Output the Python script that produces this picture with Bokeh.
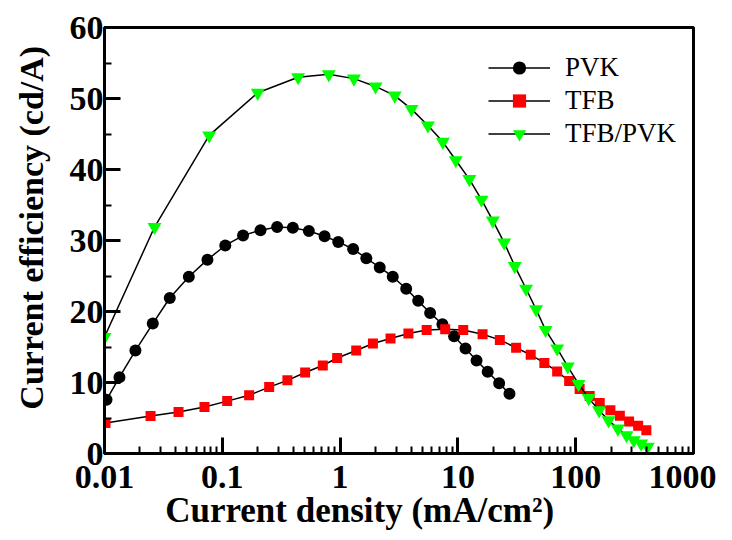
from bokeh.plotting import figure
from bokeh.models import LogTicker, SingleIntervalTicker, Range1d, CustomJSTickFormatter
from bokeh.embed import file_html
from bokeh.resources import INLINE

# Data
pvk_x = [0.0104, 0.0134, 0.0183, 0.0257, 0.0358, 0.052, 0.0748, 0.106, 0.150, 0.211,
         0.292, 0.397, 0.543, 0.738, 0.964, 1.29, 1.67, 2.17, 2.80, 3.64,
         4.60, 5.81, 7.39, 9.29, 11.6, 14.4, 17.9, 22.4, 27.4]
pvk_y = [7.57, 10.75, 14.5, 18.3, 21.9, 24.9, 27.3, 29.3, 30.7, 31.45,
         31.9, 31.8, 31.35, 30.6, 29.8, 28.8, 27.5, 26.2, 24.9, 23.2,
         21.5, 19.8, 18.2, 16.5, 14.8, 13.1, 11.5, 9.9, 8.4]

tfb_x = [0.0102, 0.0246, 0.0425, 0.0706, 0.110, 0.169, 0.250, 0.357, 0.505, 0.713,
         0.944, 1.37, 1.90, 2.68, 3.80, 5.43, 7.80, 11.1, 16.2, 22.7,
         31.2, 41.5, 54.2, 69.6, 88, 108, 131.5, 160, 197, 237,
         284, 339, 398]
tfb_y = [4.3, 5.28, 5.85, 6.55, 7.38, 8.2, 9.35, 10.3, 11.4, 12.4,
         13.45, 14.5, 15.5, 16.2, 16.9, 17.4, 17.5, 17.4, 16.8, 16.0,
         14.9, 13.9, 12.75, 11.55, 10.2, 9.1, 8.1, 7.1, 6.1, 5.3,
         4.5, 3.9, 3.27]

both_x = [0.01, 0.0266, 0.0774, 0.200, 0.440, 0.802, 1.31, 2.0, 2.91, 4.04,
          5.56, 7.45, 9.6, 12.5, 15.85, 19.8, 24.7, 30.4, 37.9, 46.1,
          55.5, 69.6, 85.7, 105.7, 129, 158, 190, 228, 270, 311,
          359, 409]
both_y = [16.4, 31.9, 44.8, 50.8, 53.0, 53.4, 52.8, 51.7, 50.4, 48.5,
          46.2, 43.9, 41.3, 38.65, 35.75, 32.8, 29.7, 26.4, 23.2, 20.3,
          17.4, 14.8, 12.25, 9.8, 7.8, 6.07, 4.67, 3.5, 2.57, 1.87,
          1.4, 0.94]

x_label = "Current density (mA/cm\u00b2)"
y_label = "Current efficiency (cd/A)"

FONT = "Liberation Serif"
NB = "\u00a0"

p = figure(width=716, height=532, x_axis_type="log",
           x_range=Range1d(0.01, 1000), y_range=Range1d(0, 60),
           output_backend="svg", toolbar_location=None)
p.min_border_left = 104
p.min_border_right = 23
p.min_border_top = 27
p.min_border_bottom = 77
p.background_fill_color = "white"
p.border_fill_color = "white"
p.outline_line_color = "black"
p.outline_line_width = 3
p.xgrid.visible = False
p.ygrid.visible = False

# series
p.line(pvk_x, pvk_y, line_color="black", line_width=1.5, legend_label="PVK")
p.scatter(pvk_x, pvk_y, marker="circle", size=12, fill_color="black",
          line_color=None, legend_label="PVK")
p.line(tfb_x, tfb_y, line_color="black", line_width=1.5, legend_label="TFB")
p.scatter(tfb_x, tfb_y, marker="square", size=10, fill_color="#ff0000",
          line_color=None, legend_label="TFB")
p.line(both_x, both_y, line_color="black", line_width=1.5, legend_label="TFB/PVK")
p.scatter(both_x, both_y, marker="inverted_triangle", size=14, fill_color="#00ff00",
          line_color=None, legend_label="TFB/PVK")

# axes
for ax in (p.xaxis[0], p.yaxis[0]):
    ax.axis_line_width = 3
    ax.axis_line_color = "black"
    ax.major_tick_line_width = 3
    ax.minor_tick_line_width = 2
    ax.major_tick_in = 16
    ax.major_tick_out = 0
    ax.minor_tick_in = 7
    ax.minor_tick_out = 0
    ax.major_label_text_font = FONT
    ax.major_label_text_font_style = "bold"
    ax.major_label_text_font_size = "34px"
    ax.major_label_text_color = "black"
    ax.axis_label_text_font = FONT
    ax.axis_label_text_font_style = "bold"
    ax.axis_label_text_color = "black"

p.xaxis[0].ticker = LogTicker(num_minor_ticks=10)
p.xaxis[0].formatter = CustomJSTickFormatter(
    code="return String(Number(tick.toPrecision(6)));")
p.xaxis[0].major_label_standoff = 12
p.xaxis[0].axis_label = x_label + NB * 9
p.xaxis[0].axis_label_standoff = 0
p.xaxis[0].axis_label_text_font_size = "35px"

p.yaxis[0].ticker = SingleIntervalTicker(interval=10, num_minor_ticks=2)
p.yaxis[0].major_label_standoff = 1
p.yaxis[0].axis_label = NB * 3 + y_label
p.yaxis[0].axis_label_standoff = 17
p.yaxis[0].axis_label_text_font_size = "34px"

# legend
lg = p.legend[0]
lg.location = (384, 303)
lg.padding = 0
lg.margin = 0
lg.spacing = 0
lg.border_line_color = None
lg.background_fill_alpha = 0
lg.glyph_width = 62
lg.glyph_height = 33
lg.label_height = 33
lg.label_standoff = 15
lg.label_text_font = FONT
lg.label_text_font_size = "27px"
lg.label_text_color = "black"

open("out.html", "w").write(file_html(p, INLINE))
